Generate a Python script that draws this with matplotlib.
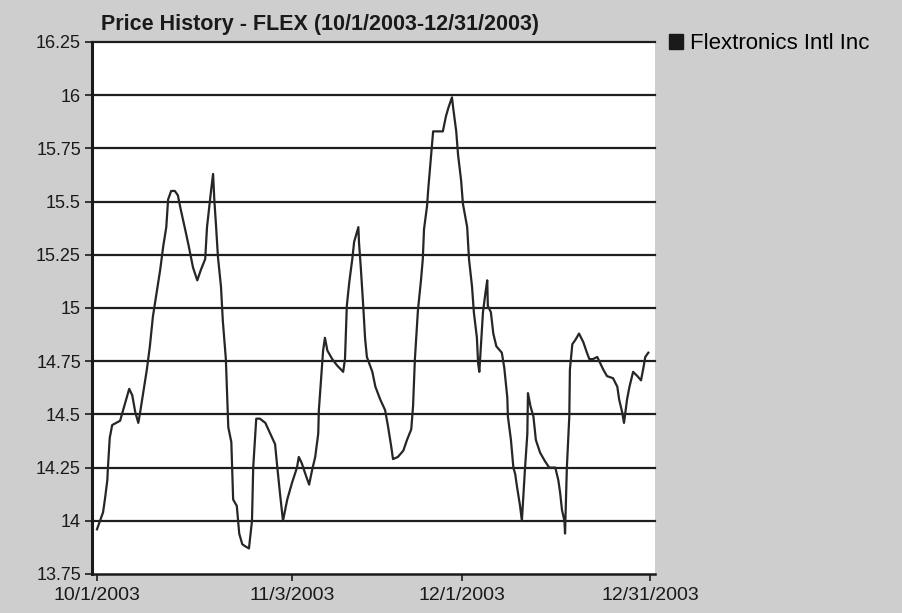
import matplotlib
matplotlib.use("Agg")
import matplotlib.pyplot as plt
from matplotlib.patches import Patch

# FLEX closing prices, Oct 1 - Dec 31 2003 (time in days since 10/1/2003)
days = [0.0, 0.5, 1.0, 1.3, 1.7, 1.8, 2.1, 2.5, 3.8, 4.3, 4.8, 5.3, 5.8, 6.3, 6.8,
        7.1, 7.6, 8.2, 8.7, 9.2, 9.9, 10.4, 10.9, 11.4, 11.7, 12.2, 12.8, 13.3, 13.8,
        14.5, 15.1, 15.8, 16.5, 17.1, 17.8, 18.1, 18.8, 19.1, 19.3, 19.6, 19.9, 20.4,
        20.7, 21.2, 21.6, 22.1, 22.4, 23.0, 23.4, 23.9, 24.4, 25.0, 25.5, 25.7, 26.2,
        26.8, 27.7, 28.5, 29.3, 29.6, 30.1, 30.6, 31.3, 32.1, 32.9, 33.2, 33.7, 34.4,
        34.9, 35.4, 35.9, 36.4, 36.5, 37.0, 37.2, 37.5, 37.9, 38.7, 39.5, 40.5, 40.8,
        41.1, 41.5, 42.0, 42.3, 42.8, 43.0, 43.1, 43.4, 43.8, 44.1, 44.4, 45.3, 45.8,
        46.6, 47.4, 47.9, 48.4, 48.7, 49.5, 50.4, 51.0, 51.7, 52.0, 52.3, 52.8, 53.3,
        53.6, 53.8, 54.3, 54.5, 54.8, 55.1, 55.3, 56.9, 57.4, 57.8, 58.4, 58.6, 59.1,
        59.4, 59.9, 60.2, 60.9, 61.2, 61.7, 62.0, 62.5, 62.7, 62.9, 63.2, 63.5, 63.9,
        64.2, 64.3, 64.8, 65.2, 65.7, 66.6, 67.0, 67.5, 67.6, 68.1, 68.5, 68.8, 69.1,
        69.6, 69.9, 70.4, 70.8, 70.9, 71.3, 71.8, 72.2, 72.9, 73.7, 74.4, 75.4, 75.9,
        76.2, 76.5, 76.9, 77.0, 77.3, 77.7, 77.8, 78.2, 78.7, 79.3, 80.0, 80.6, 81.0,
        81.6, 82.3, 82.8, 83.3, 83.9, 84.9, 85.6, 85.9, 86.4, 86.7, 87.2, 87.6, 88.2,
        88.9, 89.5, 89.9, 90.2, 90.7]
prices = [13.96, 14.00, 14.04, 14.10, 14.19, 14.25, 14.39, 14.45, 14.47, 14.52, 14.57,
          14.62, 14.59, 14.51, 14.46, 14.51, 14.60, 14.71, 14.82, 14.96, 15.09, 15.18,
          15.29, 15.38, 15.51, 15.55, 15.55, 15.53, 15.46, 15.37, 15.29, 15.19, 15.13,
          15.18, 15.23, 15.38, 15.56, 15.63, 15.51, 15.38, 15.24, 15.10, 14.94, 14.76,
          14.44, 14.37, 14.10, 14.07, 13.94, 13.89, 13.88, 13.87, 14.00, 14.25, 14.48,
          14.48, 14.46, 14.41, 14.36, 14.27, 14.13, 14.00, 14.10, 14.18, 14.25, 14.30,
          14.27, 14.21, 14.17, 14.24, 14.30, 14.41, 14.52, 14.72, 14.80, 14.86, 14.80,
          14.76, 14.73, 14.70, 14.76, 15.01, 15.12, 15.23, 15.31, 15.36, 15.38, 15.31,
          15.19, 15.01, 14.86, 14.77, 14.70, 14.63, 14.57, 14.52, 14.44, 14.35, 14.29,
          14.30, 14.33, 14.38, 14.43, 14.54, 14.76, 14.99, 15.13, 15.23, 15.37, 15.48,
          15.56, 15.66, 15.76, 15.83, 15.83, 15.90, 15.94, 15.99, 15.94, 15.83, 15.72,
          15.60, 15.49, 15.38, 15.23, 15.10, 14.98, 14.86, 14.74, 14.70, 14.84, 14.98,
          15.07, 15.13, 15.01, 14.98, 14.88, 14.82, 14.79, 14.72, 14.58, 14.49, 14.38,
          14.25, 14.22, 14.16, 14.07, 14.00, 14.24, 14.41, 14.60, 14.54, 14.49, 14.38,
          14.32, 14.28, 14.25, 14.25, 14.19, 14.13, 14.05, 14.00, 13.94, 14.25, 14.49,
          14.71, 14.83, 14.85, 14.88, 14.84, 14.79, 14.76, 14.76, 14.77, 14.74, 14.71,
          14.68, 14.67, 14.63, 14.57, 14.51, 14.46, 14.57, 14.63, 14.70, 14.68, 14.66,
          14.72, 14.77, 14.79]

x_tick_pos = [0, 32.1, 60.1, 91]
x_tick_labels = ["10/1/2003", "11/3/2003", "12/1/2003", "12/31/2003"]
y_ticks = [13.75, 14, 14.25, 14.5, 14.75, 15, 15.25, 15.5, 15.75, 16, 16.25]
y_tick_labels = ["13.75", "14", "14.25", "14.5", "14.75", "15", "15.25", "15.5",
                 "15.75", "16", "16.25"]
series_name = "Flextronics Intl Inc"
title = "Price History - FLEX (10/1/2003-12/31/2003)"

plt.rcParams["font.family"] = ["Liberation Sans", "DejaVu Sans"]

W, H = 903, 613
fig = plt.figure(figsize=(W / 100, H / 100), dpi=100)
fig.patch.set_facecolor("#cecece")

ax = fig.add_axes([92 / W, 1 - 574 / H, (655 - 92) / W, (574 - 42) / H])
ax.set_facecolor("white")

ax.plot(days, prices, color="#262626", linewidth=1.6, zorder=3)

ax.set_xlim(-0.82, 91.8)
ax.set_ylim(13.75, 16.25)

ax.set_yticks(y_ticks)
ax.set_yticklabels(y_tick_labels)
ax.set_xticks(x_tick_pos)
ax.set_xticklabels(x_tick_labels)

# horizontal rules at every price level, including the top edge
for yv in y_ticks[1:]:
    ax.axhline(yv, color="#1e1e1e", linewidth=1.6, zorder=2, clip_on=False)

for side in ("top", "right"):
    ax.spines[side].set_visible(False)
ax.spines["left"].set_linewidth(2.2)
ax.spines["bottom"].set_linewidth(1.8)
ax.spines["left"].set_color("#1a1a1a")
ax.spines["bottom"].set_color("#1a1a1a")

ax.tick_params(axis="y", direction="out", length=5, width=1.2, pad=3,
               labelsize=13, colors="#1a1a1a")
ax.tick_params(axis="x", direction="out", length=5, width=1.2, pad=4,
               labelsize=14, colors="#1a1a1a")

fig.text(101 / W, 1 - 30 / H, title, fontsize=15.5, fontweight="bold",
         ha="left", va="baseline", color="#1a1a1a")

leg = fig.legend(handles=[Patch(facecolor="#1a1a1a", edgecolor="#1a1a1a",
                                label=series_name)],
                 loc="upper left", bbox_to_anchor=(669 / W, 1 - 33 / H),
                 frameon=False, fontsize=16, handlelength=0.65, handleheight=0.65,
                 handletextpad=0.3, borderaxespad=0, borderpad=0)

fig.savefig("out.png", dpi=100, facecolor=fig.get_facecolor())
